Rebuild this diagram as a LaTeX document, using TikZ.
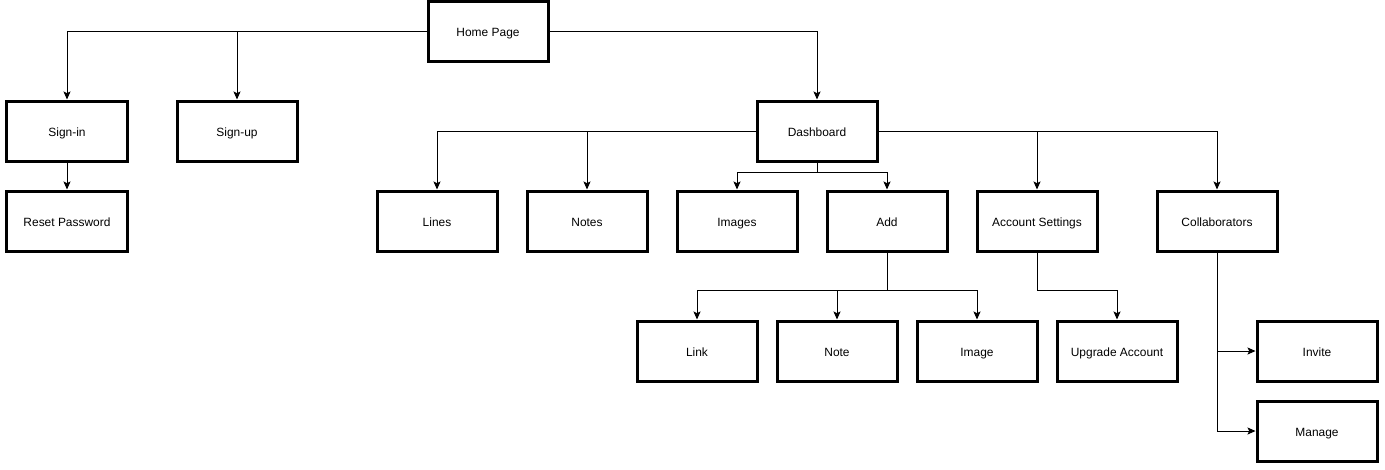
\documentclass[tikz,border=0pt]{standalone}
\usepackage{fontspec}
\setmainfont{Liberation Sans}
\usepackage{tikz}
\usetikzlibrary{arrows.meta,shadows}
\definecolor{tinta}{HTML}{000000}
\definecolor{sombra}{HTML}{C9CCD8}

\begin{document}
\begin{tikzpicture}[
  x=0.03cm,y=-0.03cm,
  font=\fontsize{10.2}{12}\selectfont,
  pagebox/.style={draw=tinta,fill=white,line width=0.09cm,minimum width=3.6cm,minimum height=1.8cm,align=center,
    text height=0.88em,text depth=0em,
    drop shadow={shadow xshift=0.07cm,shadow yshift=-0.07cm,fill=sombra,opacity=0.6}},
  arrow/.style={-{Stealth[length=0.24cm,width=0.21cm,inset=0.05cm]},line width=0.03cm,tinta}]
\useasboundingbox (0,0) rectangle (1385,469);
\node[pagebox] (home) at (488,31) {Home Page};
\node[pagebox] (signin) at (67,131) {Sign-in};
\node[pagebox] (signup) at (237,131) {Sign-up};
\node[pagebox] (reset) at (67,221) {Reset Password};
\node[pagebox] (dash) at (817,131) {Dashboard};
\node[pagebox] (lines) at (437,221) {Lines};
\node[pagebox] (notes) at (587,221) {Notes};
\node[pagebox] (images) at (737,221) {Images};
\node[pagebox] (add) at (887,221) {Add};
\node[pagebox] (settings) at (1037,221) {Account Settings};
\node[pagebox] (collab) at (1217,221) {Collaborators};
\node[pagebox] (link) at (697,351) {Link};
\node[pagebox] (note) at (837,351) {Note};
\node[pagebox] (image) at (977,351) {Image};
\node[pagebox] (upgrade) at (1117,351) {Upgrade Account};
\node[pagebox] (invite) at (1317,351) {Invite};
\node[pagebox] (manage) at (1317,431) {Manage};
\draw[arrow] (home.west) -| (signin.north);
\draw[arrow] (home.west) -| (signup.north);
\draw[arrow] (home.east) -| (dash.north);
\draw[arrow] (signin) -- (reset);
\draw[arrow] (dash.west) -| (lines.north);
\draw[arrow] (dash.west) -| (notes.north);
\draw[arrow] (dash.south) -- ++(0,10) -| (images.north);
\draw[arrow] (dash.south) -- ++(0,10) -| (add.north);
\draw[arrow] (dash.east) -| (settings.north);
\draw[arrow] (dash.east) -| (collab.north);
\draw[arrow] (add.south) -- ++(0,38) -| (link.north);
\draw[arrow] (add.south) -- ++(0,38) -| (note.north);
\draw[arrow] (add.south) -- ++(0,38) -| (image.north);
\draw[arrow] (settings.south) -- ++(0,38) -| (upgrade.north);
\draw[arrow] (collab.south) |- (invite.west);
\draw[arrow] (collab.south) |- (manage.west);
\end{tikzpicture}
\end{document}
